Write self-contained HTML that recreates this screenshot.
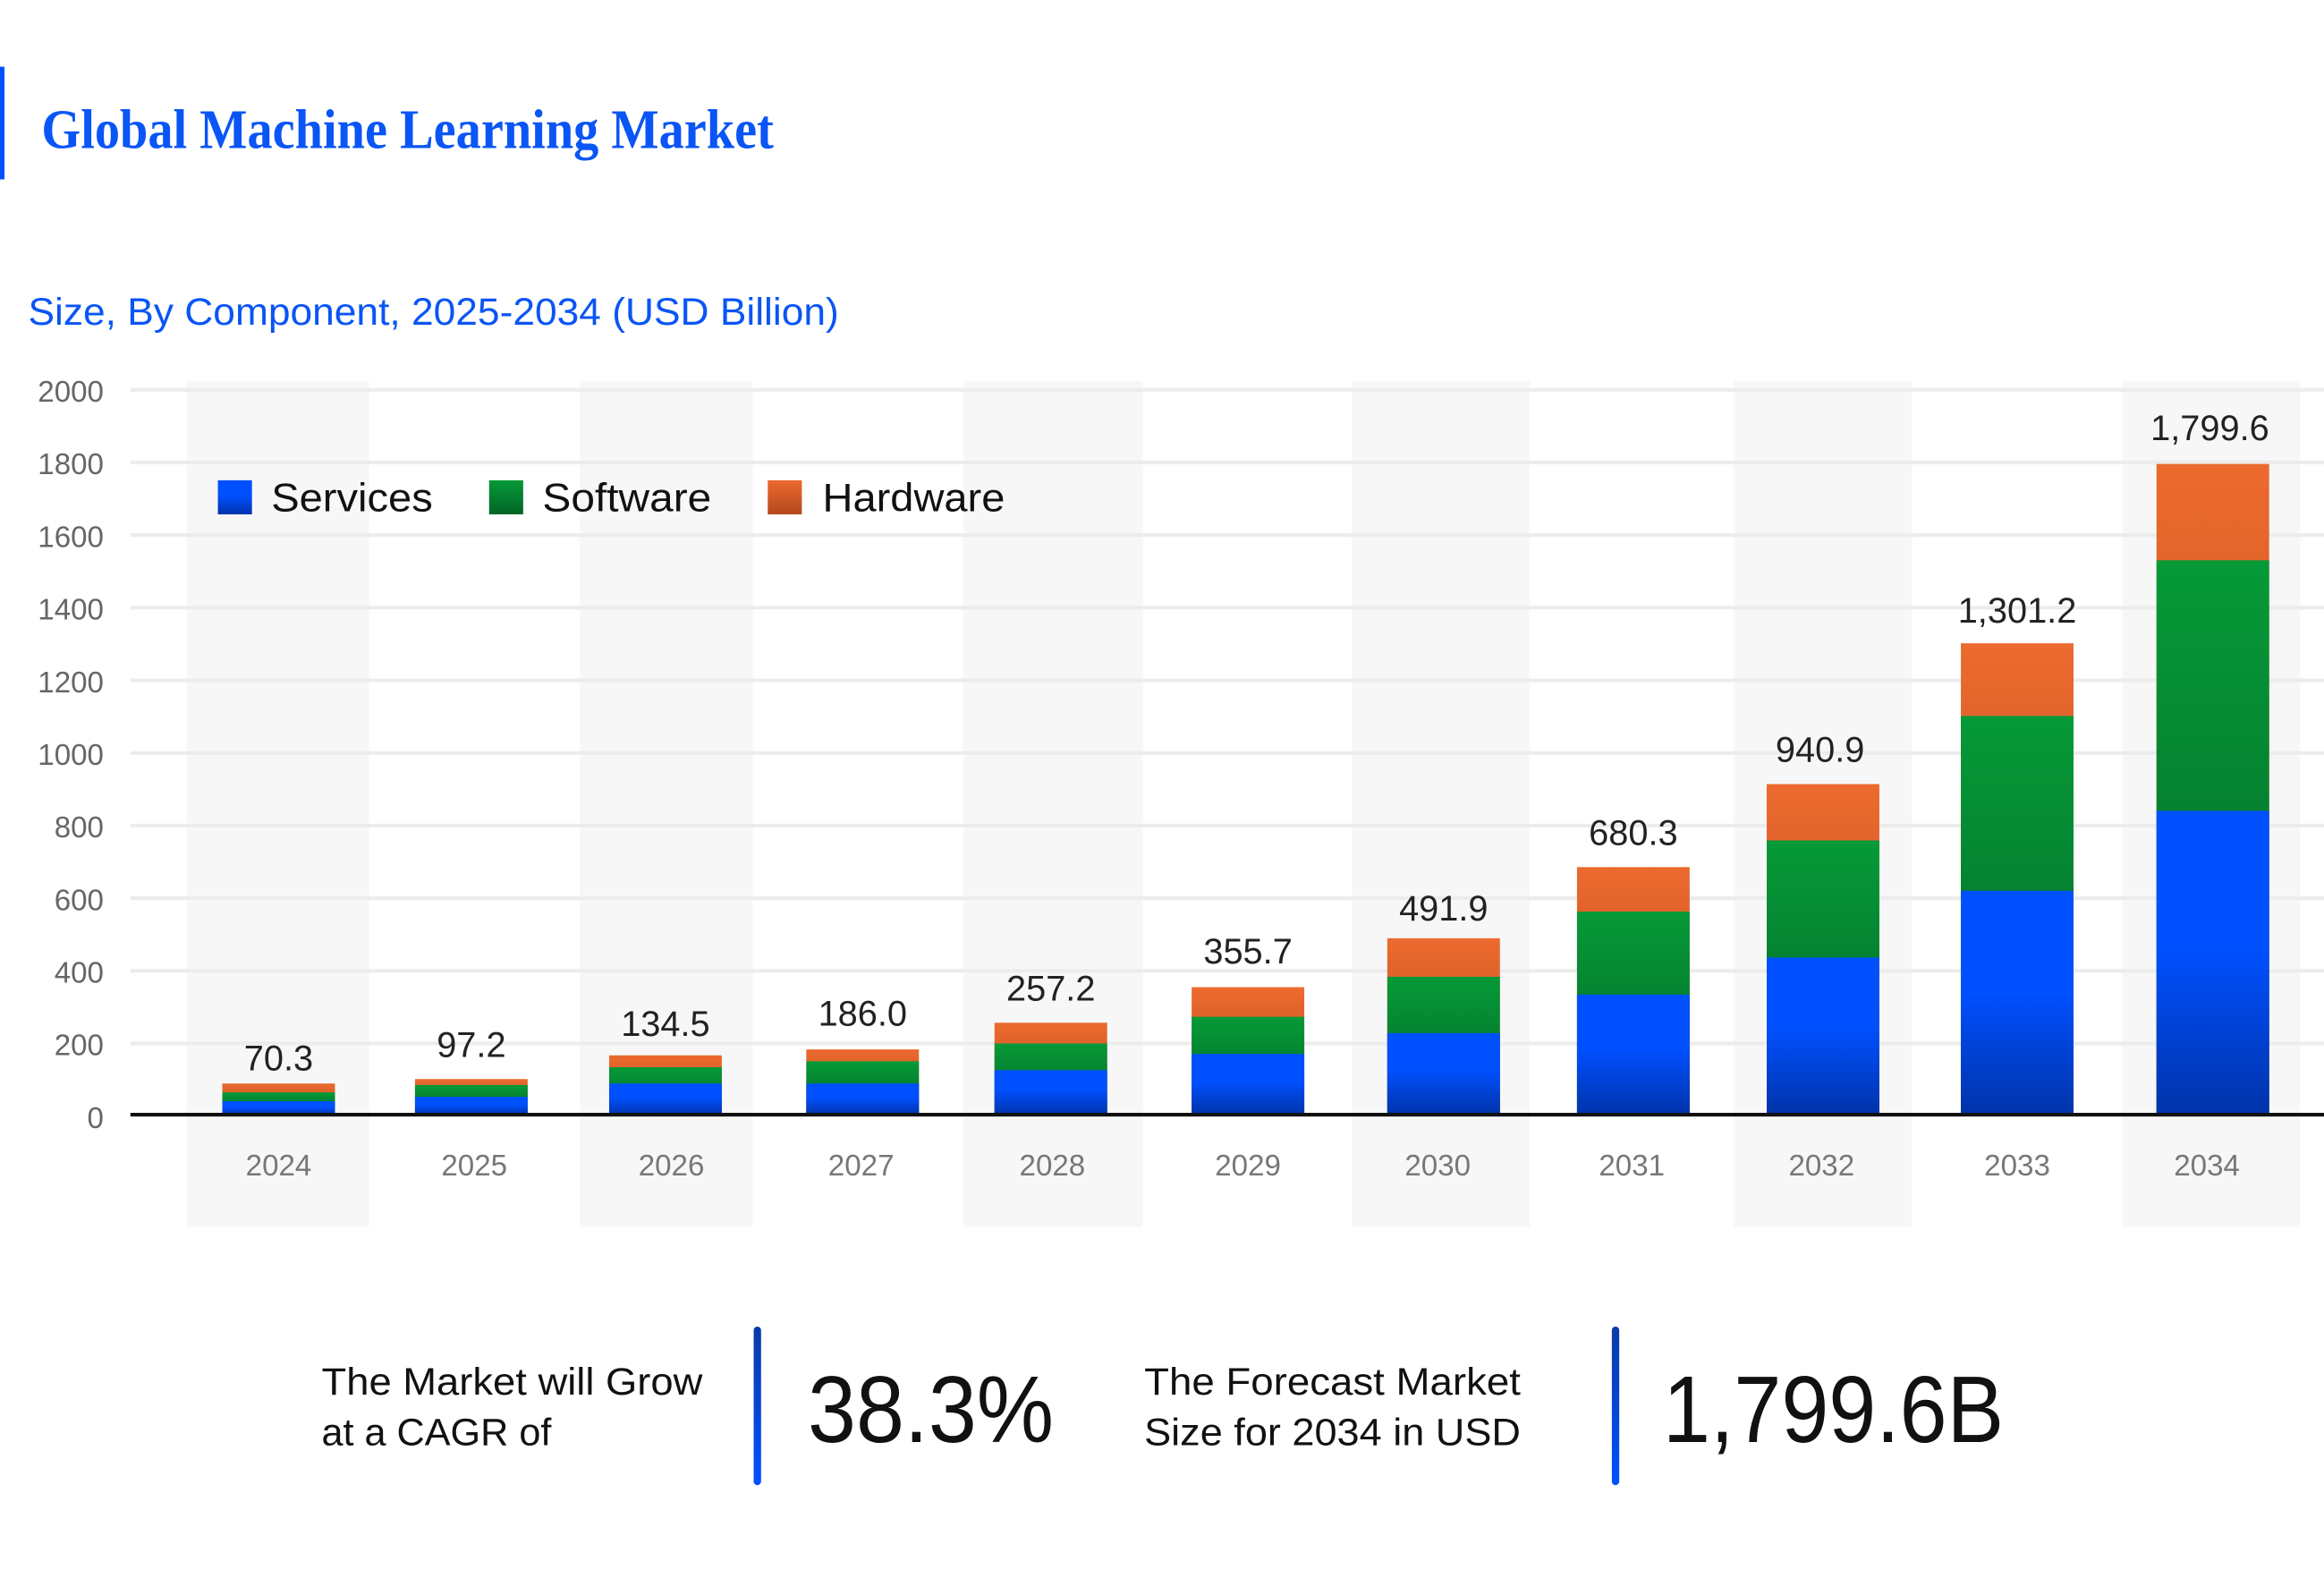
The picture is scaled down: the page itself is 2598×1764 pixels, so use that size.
<!DOCTYPE html>
<html><head><meta charset="utf-8"><style>html,body{margin:0;padding:0;background:#fff}svg{display:block}</style></head>
<body>
<svg xmlns="http://www.w3.org/2000/svg" width="2598" height="1764" viewBox="0 0 1568 1064.6" font-family="Liberation Sans, sans-serif">
<defs>
<linearGradient id="gb" x1="0" y1="0" x2="0" y2="1"><stop offset="0" stop-color="#0050ff"/><stop offset="0.45" stop-color="#0050ff"/><stop offset="1" stop-color="#0033aa"/></linearGradient>
<linearGradient id="gg" x1="0" y1="0" x2="0" y2="1"><stop offset="0" stop-color="#069a38"/><stop offset="1" stop-color="#036426"/></linearGradient>
<linearGradient id="go" x1="0" y1="0" x2="0" y2="1"><stop offset="0" stop-color="#ec6a2e"/><stop offset="1" stop-color="#b3481e"/></linearGradient>
<linearGradient id="gl" x1="0" y1="0" x2="0" y2="1"><stop offset="0" stop-color="#0a3aa8"/><stop offset="1" stop-color="#0050ff"/></linearGradient>
</defs>
<rect x="0" y="45" width="3" height="76" fill="#0050ff"/>
<text x="28" y="100" font-family="Liberation Serif, serif" font-size="38" font-weight="bold" fill="#0a55f5" textLength="494" lengthAdjust="spacingAndGlyphs">Global Machine Learning Market</text>
<text x="19" y="219" font-size="26" fill="#0a55f5" textLength="547" lengthAdjust="spacingAndGlyphs">Size, By Component, 2025-2034 (USD Billion)</text>
<g fill="#f7f7f7">
<rect x="126" y="257" width="123" height="571"/><rect x="391" y="257" width="117" height="571"/><rect x="650" y="257" width="121" height="571"/><rect x="912" y="257" width="120" height="571"/><rect x="1170" y="257" width="120" height="571"/><rect x="1432" y="257" width="120" height="571"/>
</g>
<g stroke="#ececec" stroke-width="2.5">
<line x1="88" x2="1568" y1="263" y2="263"/><line x1="88" x2="1568" y1="312" y2="312"/><line x1="88" x2="1568" y1="361" y2="361"/><line x1="88" x2="1568" y1="410" y2="410"/><line x1="88" x2="1568" y1="459" y2="459"/><line x1="88" x2="1568" y1="508" y2="508"/><line x1="88" x2="1568" y1="557" y2="557"/><line x1="88" x2="1568" y1="606" y2="606"/><line x1="88" x2="1568" y1="655" y2="655"/><line x1="88" x2="1568" y1="704" y2="704"/>
</g>
<g font-size="20" fill="#666" text-anchor="end">
<text x="70" y="271">2000</text><text x="70" y="320">1800</text><text x="70" y="369">1600</text><text x="70" y="418">1400</text><text x="70" y="467">1200</text><text x="70" y="516">1000</text><text x="70" y="565">800</text><text x="70" y="614">600</text><text x="70" y="663">400</text><text x="70" y="712">200</text><text x="70" y="761">0</text>
</g>
<g>
<rect x="150" y="731" width="76" height="21" fill="url(#go)"/><rect x="150" y="737" width="76" height="15" fill="url(#gg)"/><rect x="150" y="743" width="76" height="9" fill="url(#gb)"/>
<rect x="280" y="728" width="76" height="24" fill="url(#go)"/><rect x="280" y="732" width="76" height="20" fill="url(#gg)"/><rect x="280" y="740" width="76" height="12" fill="url(#gb)"/>
<rect x="411" y="712" width="76" height="40" fill="url(#go)"/><rect x="411" y="720" width="76" height="32" fill="url(#gg)"/><rect x="411" y="731" width="76" height="21" fill="url(#gb)"/>
<rect x="544" y="708" width="76" height="44" fill="url(#go)"/><rect x="544" y="716" width="76" height="36" fill="url(#gg)"/><rect x="544" y="731" width="76" height="21" fill="url(#gb)"/>
<rect x="671" y="690" width="76" height="62" fill="url(#go)"/><rect x="671" y="704" width="76" height="48" fill="url(#gg)"/><rect x="671" y="722" width="76" height="30" fill="url(#gb)"/>
<rect x="804" y="666" width="76" height="86" fill="url(#go)"/><rect x="804" y="686" width="76" height="66" fill="url(#gg)"/><rect x="804" y="711" width="76" height="41" fill="url(#gb)"/>
<rect x="936" y="633" width="76" height="119" fill="url(#go)"/><rect x="936" y="659" width="76" height="93" fill="url(#gg)"/><rect x="936" y="697" width="76" height="55" fill="url(#gb)"/>
<rect x="1064" y="585" width="76" height="167" fill="url(#go)"/><rect x="1064" y="615" width="76" height="137" fill="url(#gg)"/><rect x="1064" y="671" width="76" height="81" fill="url(#gb)"/>
<rect x="1192" y="529" width="76" height="223" fill="url(#go)"/><rect x="1192" y="567" width="76" height="185" fill="url(#gg)"/><rect x="1192" y="646" width="76" height="106" fill="url(#gb)"/>
<rect x="1323" y="434" width="76" height="318" fill="url(#go)"/><rect x="1323" y="483" width="76" height="269" fill="url(#gg)"/><rect x="1323" y="601" width="76" height="151" fill="url(#gb)"/>
<rect x="1455" y="313" width="76" height="439" fill="url(#go)"/><rect x="1455" y="378" width="76" height="374" fill="url(#gg)"/><rect x="1455" y="547" width="76" height="205" fill="url(#gb)"/>
</g>
<line x1="88" x2="1568" y1="752" y2="752" stroke="#111" stroke-width="2.5"/>
<g font-size="24" fill="#222" text-anchor="middle">
<text x="188" y="722">70.3</text><text x="318" y="713">97.2</text><text x="449" y="699">134.5</text><text x="582" y="692">186.0</text><text x="709" y="675">257.2</text><text x="842" y="650">355.7</text><text x="974" y="621">491.9</text><text x="1102" y="570">680.3</text><text x="1228" y="514">940.9</text><text x="1361" y="420">1,301.2</text><text x="1491" y="297">1,799.6</text>
</g>
<g font-size="20" fill="#777" text-anchor="middle">
<text x="188" y="793">2024</text><text x="320" y="793">2025</text><text x="453" y="793">2026</text><text x="581" y="793">2027</text><text x="710" y="793">2028</text><text x="842" y="793">2029</text><text x="970" y="793">2030</text><text x="1101" y="793">2031</text><text x="1229" y="793">2032</text><text x="1361" y="793">2033</text><text x="1489" y="793">2034</text>
</g>
<rect x="147" y="324" width="23" height="23" fill="url(#gb)"/>
<rect x="330" y="324" width="23" height="23" fill="url(#gg)"/>
<rect x="518" y="324" width="23" height="23" fill="url(#go)"/>
<g font-size="27" fill="#111">
<text x="183" y="345" textLength="109" lengthAdjust="spacingAndGlyphs">Services</text><text x="366" y="345" textLength="114" lengthAdjust="spacingAndGlyphs">Software</text><text x="555" y="345" textLength="123" lengthAdjust="spacingAndGlyphs">Hardware</text>
</g>
<g font-size="26" fill="#111">
<text x="217" y="941" textLength="257" lengthAdjust="spacingAndGlyphs">The Market will Grow</text><text x="217" y="975" textLength="155" lengthAdjust="spacingAndGlyphs">at a CAGR of</text>
<text x="772" y="941" textLength="254" lengthAdjust="spacingAndGlyphs">The Forecast Market</text><text x="772" y="975" textLength="254" lengthAdjust="spacingAndGlyphs">Size for 2034 in USD</text>
</g>
<rect x="508.5" y="895" width="5" height="107" rx="2.5" fill="url(#gl)"/>
<rect x="1087.5" y="895" width="5" height="107" rx="2.5" fill="url(#gl)"/>
<g font-size="64" fill="#111">
<text x="545" y="973" textLength="166" lengthAdjust="spacingAndGlyphs">38.3%</text>
<text x="1122" y="973" textLength="230" lengthAdjust="spacingAndGlyphs">1,799.6B</text>
</g>
</svg>
</body></html>
